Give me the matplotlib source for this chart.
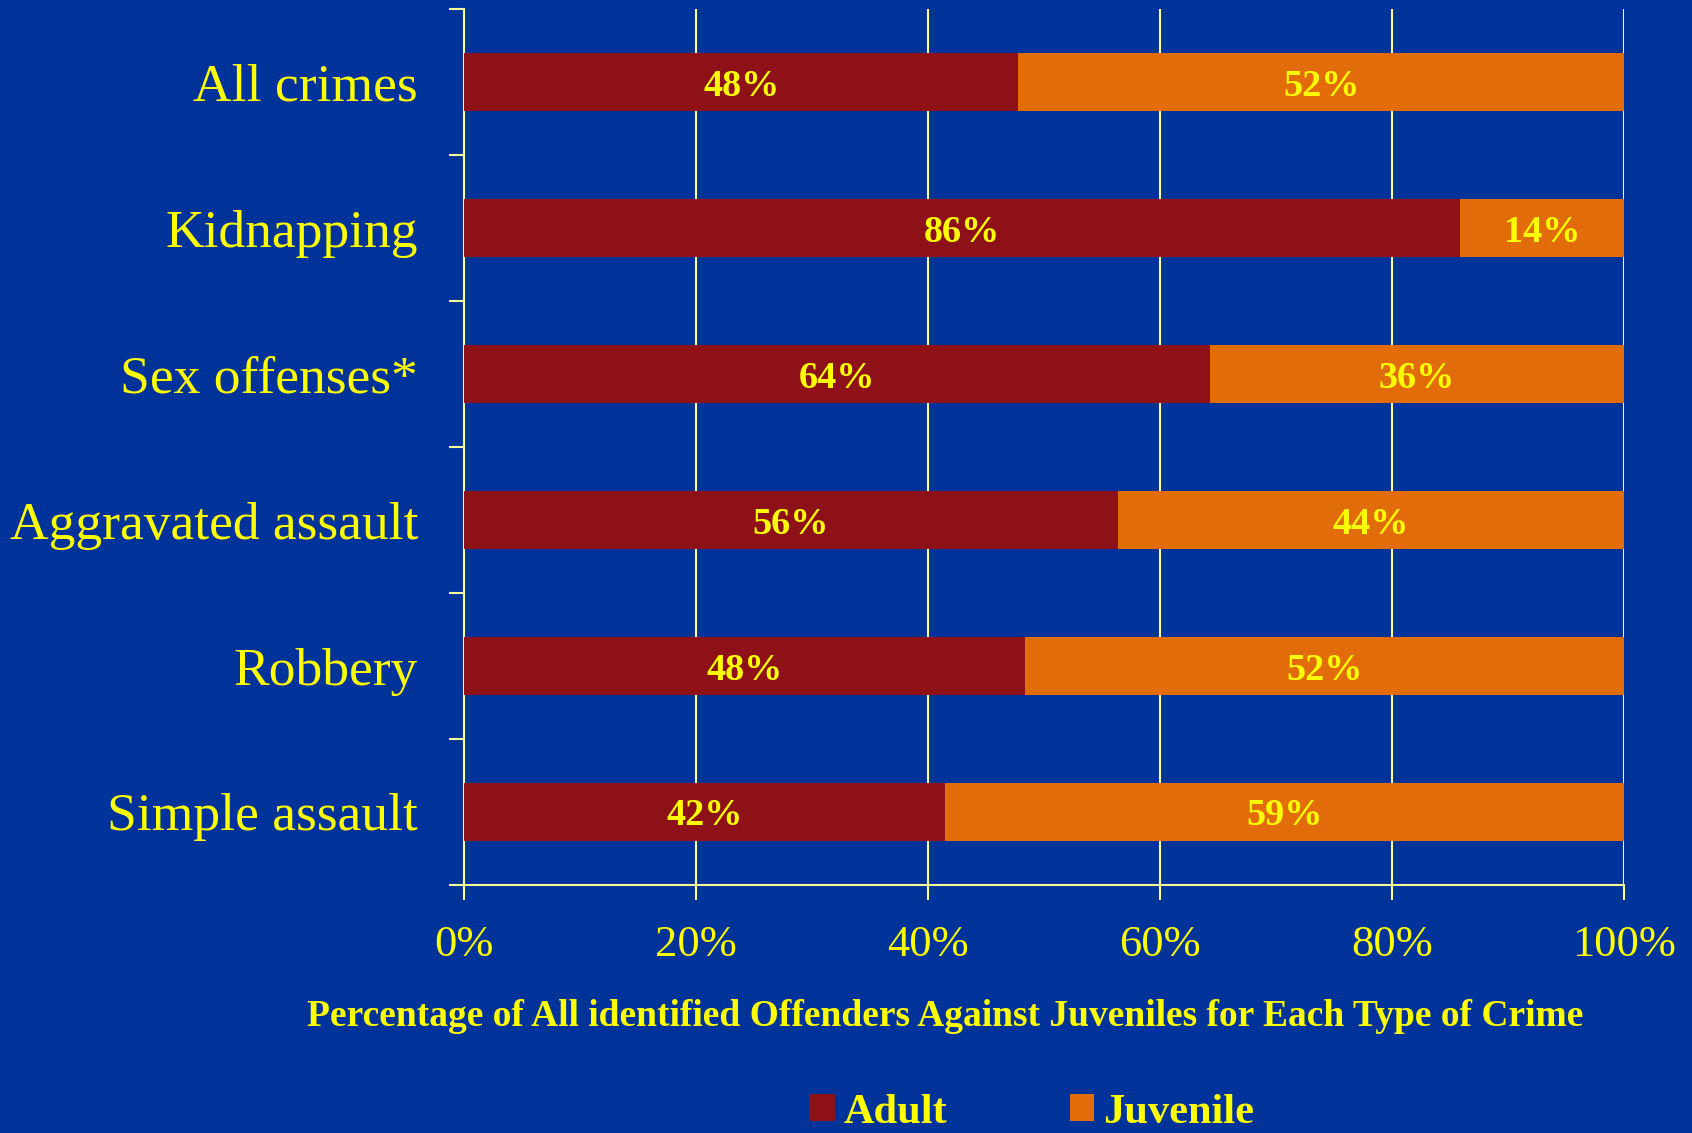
import matplotlib
matplotlib.use('Agg')
import matplotlib.pyplot as plt
from matplotlib.patches import Patch
import numpy as np

# share of identified offenders, adult vs juvenile, per crime type
crimes = ['All crimes', 'Kidnapping', 'Sex offenses*', 'Aggravated assault', 'Robbery', 'Simple assault']
adult = [47.8, 85.9, 64.3, 56.4, 48.4, 41.5]
juvenile = [52.2, 14.1, 35.7, 43.6, 51.6, 58.5]
xticks = [0, 20, 40, 60, 80, 100]
xtick_labels = ['0%', '20%', '40%', '60%', '80%', '100%']

bg = '#003399'
yellow = '#FFFF00'
line_col = '#FFFF99'
adult_col = '#8E1118'
juv_col = '#E36C0A'

plt.rcParams['font.family'] = ['Liberation Serif', 'DejaVu Serif']

fig = plt.figure(figsize=(16.92, 11.33), dpi=100, facecolor=bg)
ax = fig.add_axes([0.2742, 0.2189, 0.9598 - 0.2742, 0.992 - 0.2189])
ax.set_facecolor(bg)

y = np.arange(len(crimes))
ax.barh(y, adult, height=0.4, color=adult_col, zorder=3)
ax.barh(y, juvenile, left=adult, height=0.4, color=juv_col, zorder=3)

def pct(v):
    return '%d%%' % int(v + 0.5)

for i in range(len(crimes)):
    ax.text(adult[i] / 2, y[i], pct(adult[i]), ha='center', va='center_baseline',
            color=yellow, fontsize=27.5, fontweight='bold', zorder=4)
    ax.text(adult[i] + juvenile[i] / 2, y[i], pct(juvenile[i]), ha='center', va='center_baseline',
            color=yellow, fontsize=27.5, fontweight='bold', zorder=4)

ax.set_xlim(0, 100)
ax.set_ylim(len(crimes) - 0.5, -0.5)

# vertical grid lines
for xv in xticks[1:]:
    ax.axvline(xv, color=line_col, lw=1.5, zorder=1)

for s in ['top', 'right']:
    ax.spines[s].set_visible(False)
for s in ['left', 'bottom']:
    ax.spines[s].set_color(line_col)
    ax.spines[s].set_linewidth(1.5)

ax.set_yticks(y)
ax.set_yticklabels(crimes, fontsize=38.5, color=yellow)
ax.tick_params(axis='y', which='major', length=0, pad=33)
ax.set_yticks(np.arange(-0.5, len(crimes)), minor=True)
ax.tick_params(axis='y', which='minor', length=10.8, width=1.5, color=line_col, direction='out')

ax.set_xticks(xticks)
ax.set_xticklabels(xtick_labels, fontsize=32, color=yellow)
ax.tick_params(axis='x', length=10.8, width=1.5, color=line_col, direction='out', pad=18)

fig.text(0.5587, 1 - 1016 / 1133,
         'Percentage of All identified Offenders Against Juveniles for Each Type of Crime',
         ha='center', va='center', fontsize=27, fontweight='bold', color=yellow)

handles = [Patch(facecolor=adult_col, label='Adult'), Patch(facecolor=juv_col, label='Juvenile')]
leg = fig.legend(handles=handles, loc='center', bbox_to_anchor=(0.61, 0.018), ncol=2,
                 frameon=False, handlelength=0.58, handleheight=0.58, handletextpad=0.2,
                 columnspacing=2.9, borderpad=0.0, prop={'size': 30.5, 'weight': 'bold'})
for t in leg.get_texts():
    t.set_color(yellow)

fig.savefig('out.png', dpi=100, facecolor=bg)
